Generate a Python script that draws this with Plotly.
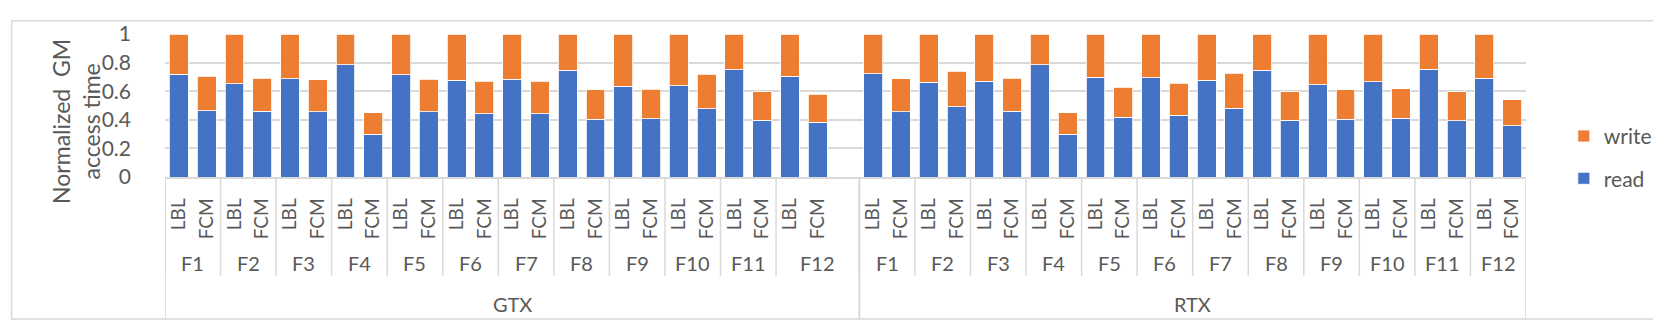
import plotly.graph_objects as go

gpus = ['GTX', 'RTX']
kernels = ['F1', 'F2', 'F3', 'F4', 'F5', 'F6', 'F7', 'F8', 'F9', 'F10', 'F11', 'F12']
methods = ['LBL', 'FCM']

# read / write share of GM access time, per kernel: LBL then FCM
gtx_read = [0.720, 0.465, 0.651, 0.461, 0.688, 0.456, 0.784, 0.299,
            0.714, 0.456, 0.677, 0.443, 0.683, 0.443, 0.747, 0.404,
            0.635, 0.408, 0.638, 0.476, 0.751, 0.397, 0.703, 0.382]
gtx_write = [0.280, 0.238, 0.349, 0.231, 0.312, 0.223, 0.216, 0.151,
             0.286, 0.227, 0.323, 0.227, 0.317, 0.227, 0.253, 0.207,
             0.365, 0.206, 0.362, 0.244, 0.249, 0.199, 0.297, 0.197]
rtx_read = [0.723, 0.456, 0.662, 0.491, 0.670, 0.461, 0.784, 0.299,
            0.699, 0.419, 0.694, 0.432, 0.677, 0.480, 0.747, 0.397,
            0.644, 0.404, 0.666, 0.410, 0.755, 0.395, 0.692, 0.360]
rtx_write = [0.277, 0.232, 0.338, 0.249, 0.330, 0.231, 0.216, 0.151,
             0.301, 0.210, 0.306, 0.223, 0.323, 0.245, 0.253, 0.199,
             0.356, 0.207, 0.334, 0.208, 0.245, 0.201, 0.308, 0.179]

# pixel geometry of the plot area
W, H = 1661, 322
PL, PR, PT, PB = 157, 1524, 17, 169
FONT = 'Lato'
GREY = '#595959'
LINE = '#D9D9D9'


def px_x(p):
    return (p - PL) / (PR - PL)


def px_y(p):
    return (PB - p) / (PB - PT)


# slot positions: GTX F12 has one empty slot after it (as in the source sheet)
xs, labels, groups = [], [], []
slot = 0
for g in gpus:
    start = slot
    fgroups = []
    for i, k in enumerate(kernels):
        f0 = slot
        for m in methods:
            xs.append(slot)
            labels.append(m)
            slot += 1
        if g == 'GTX' and i == len(kernels) - 1:
            slot += 1
        fgroups.append((k, f0 - 0.5, slot - 0.5))
    groups.append((g, start - 0.5, slot - 0.5, fgroups))

read = gtx_read + rtx_read
write = gtx_write + rtx_write

fig = go.Figure()
fig.add_trace(go.Bar(x=xs, y=read, name='read', marker_color='#4472C4',
                     marker_line=dict(color='white', width=0.8),
                     legendgroup='r', legendrank=2))
fig.add_trace(go.Bar(x=xs, y=write, name='write', marker_color='#ED7D31',
                     marker_line=dict(color='white', width=0.8),
                     legendgroup='w', legendrank=1))

shapes = []
annotations = []
for g, g0, g1, fgroups in groups:
    annotations.append(dict(x=(g0 + g1) / 2, y=px_y(304), xref='x', yref='paper',
                            xanchor='center', yanchor='middle',
                            text=g, showarrow=False, font=dict(size=20, color=GREY)))
    for x0 in (g0, g1):
        shapes.append(dict(type='line', xref='x', yref='paper', x0=x0, x1=x0,
                           y0=0, y1=px_y(320), line=dict(color=LINE, width=1.5)))
    for k, f0, f1 in fgroups:
        annotations.append(dict(x=(f0 + f1) / 2, y=px_y(260), xref='x', yref='paper',
                                xanchor='center', yanchor='middle',
                                text=k, showarrow=False, font=dict(size=20, color=GREY)))
        shapes.append(dict(type='line', xref='x', yref='paper', x0=f0, x1=f0,
                           y0=0, y1=px_y(274), line=dict(color=LINE, width=1.5)))

# y-axis title, two lines
annotations.append(dict(x=px_x(68), y=px_y(110), xref='paper', yref='paper',
                        xanchor='center', yanchor='middle',
                        text='Normalized  GM<br>access time', textangle=-90,
                        showarrow=False, font=dict(size=23, color=GREY)))

# outer chart border
shapes.append(dict(type='rect', xref='paper', yref='paper', x0=px_x(3), x1=px_x(1657),
                   y0=px_y(320), y1=px_y(3), line=dict(color=LINE, width=1.5)))

fig.update_layout(
    width=W, height=H,
    margin=dict(l=PL, r=W - PR, t=PT, b=H - PB),
    barmode='stack', bargap=0.32,
    plot_bgcolor='white', paper_bgcolor='white',
    font=dict(family=FONT, color=GREY, size=20),
    xaxis=dict(range=[-0.5, slot - 0.5], tickmode='array', tickvals=xs, ticktext=labels,
               tickangle=-90, showgrid=False, zeroline=False, showline=True,
               linecolor=LINE, linewidth=1.5, ticks='', ticklabelstandoff=12,
               tickfont=dict(size=19, color=GREY)),
    yaxis=dict(range=[0, 1], dtick=0.2, showgrid=True, gridcolor=LINE, gridwidth=1.5,
               zeroline=False, showline=False, ticklabelstandoff=33,
               tickfont=dict(size=21, color=GREY)),
    legend=dict(x=px_x(1562), xanchor='left', y=px_y(104), yanchor='top',
                traceorder='grouped', tracegroupgap=12,
                font=dict(size=21, color=GREY), itemwidth=30),
    shapes=shapes, annotations=annotations,
)

fig.write_html('out.html')
